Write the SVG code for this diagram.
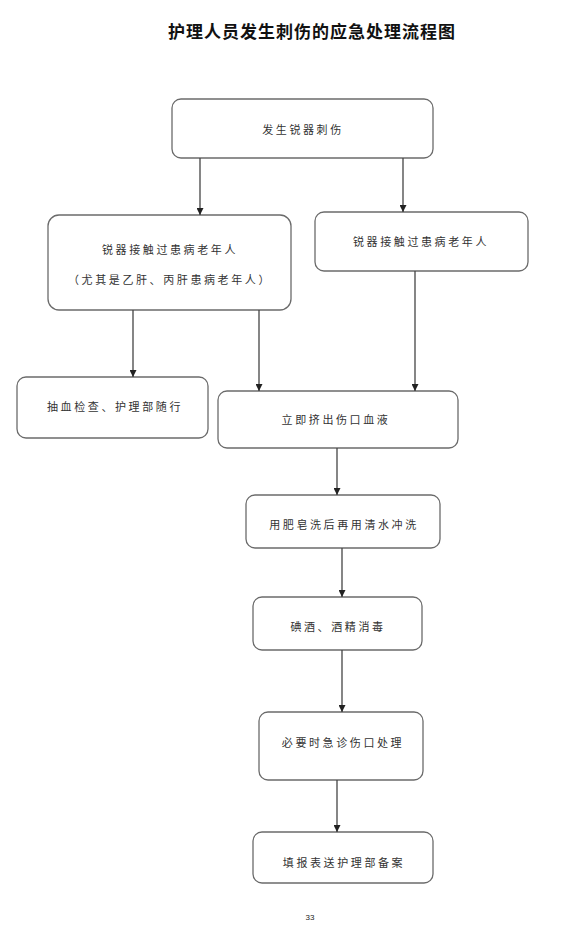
<svg xmlns="http://www.w3.org/2000/svg" width="568" height="926" viewBox="0 0 568 926">
<defs>
<style>
.box{fill:#fff;stroke:#6b6b6b;stroke-width:1.3}
.t{font-family:"Noto Sans CJK SC","Noto Sans",sans-serif;font-size:11px;fill:#333;text-anchor:middle;letter-spacing:2.6px}
.ln{stroke:#444;stroke-width:1.3;fill:none}
.title{font-family:"Noto Sans CJK SC","Noto Sans",sans-serif;font-size:17px;font-weight:bold;fill:#111;text-anchor:middle;letter-spacing:1px}
</style>
<marker id="ah" viewBox="0 0 10 10" refX="10" refY="5" markerWidth="7" markerHeight="7" markerUnits="userSpaceOnUse" orient="auto">
<path d="M0,0 L10,5 L0,10 z" fill="#222"/>
</marker>
</defs>
<rect width="568" height="926" fill="#fff"/>
<text class="title" x="312" y="38">护理人员发生刺伤的应急处理流程图</text>

<g id="n1"><rect class="box" x="172" y="99" width="261" height="59" rx="9"/><text class="t" x="303" y="134">发生锐器刺伤</text></g>
<g id="n2"><rect class="box" x="48" y="215" width="243" height="95" rx="11"/><text class="t" x="170" y="254">锐器接触过患病老年人</text><text class="t" x="170" y="284">（尤其是乙肝、丙肝患病老年人）</text></g>
<g id="n3"><rect class="box" x="315" y="212" width="213" height="59" rx="9"/><text class="t" x="421" y="246">锐器接触过患病老年人</text></g>
<g id="n4"><rect class="box" x="17" y="377" width="191" height="61" rx="9"/><text class="t" x="115" y="411">抽血检查、护理部随行</text></g>
<g id="n5"><rect class="box" x="218" y="391" width="240" height="57" rx="9"/><text class="t" x="336" y="424">立即挤出伤口血液</text></g>
<g id="n6"><rect class="box" x="246" y="495" width="194" height="53" rx="9"/><text class="t" x="344" y="529">用肥皂洗后再用清水冲洗</text></g>
<g id="n7"><rect class="box" x="253" y="597" width="169" height="53" rx="9"/><text class="t" x="338" y="631">碘酒、酒精消毒</text></g>
<g id="n8"><rect class="box" x="259" y="712" width="164" height="68" rx="9"/><text class="t" x="343" y="747">必要时急诊伤口处理</text></g>
<g id="n9"><rect class="box" x="253" y="832" width="180" height="51" rx="9"/><text class="t" x="344" y="867">填报表送护理部备案</text></g>

<g id="connectors">
<line class="ln" x1="200" y1="158" x2="200" y2="215" marker-end="url(#ah)"/>
<line class="ln" x1="403" y1="158" x2="403" y2="212" marker-end="url(#ah)"/>
<line class="ln" x1="133" y1="310" x2="133" y2="377" marker-end="url(#ah)"/>
<line class="ln" x1="259" y1="310" x2="259" y2="391" marker-end="url(#ah)"/>
<line class="ln" x1="415" y1="271" x2="415" y2="391" marker-end="url(#ah)"/>
<line class="ln" x1="337" y1="448" x2="337" y2="495" marker-end="url(#ah)"/>
<line class="ln" x1="342" y1="548" x2="342" y2="597" marker-end="url(#ah)"/>
<line class="ln" x1="342" y1="650" x2="342" y2="712" marker-end="url(#ah)"/>
<line class="ln" x1="337" y1="780" x2="337" y2="832" marker-end="url(#ah)"/>
</g>
<text x="310" y="920" font-family="Liberation Sans, sans-serif" font-size="8" fill="#222" text-anchor="middle">33</text>
</svg>
